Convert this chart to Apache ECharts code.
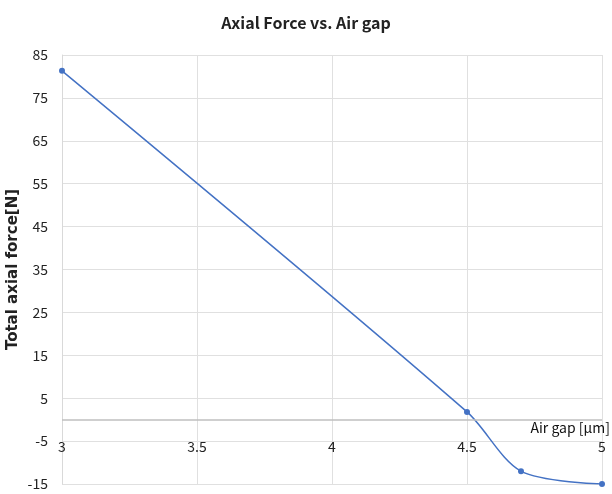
<!doctype html>
<html>
<head>
<meta charset="utf-8">
<title>Axial Force vs. Air gap</title>
<script src="https://cdn.jsdelivr.net/npm/echarts@6/dist/echarts.min.js"></script>
<style>
  html, body { margin: 0; padding: 0; background: #fff; }
  #chart { width: 612px; height: 494px; }
</style>
</head>
<body>
<div id="chart"></div>
<script>
// data
var airGap = [3, 4.5, 4.7, 5];
var axialForce = [81.3, 1.8, -12.0, -15.0];

var chart = echarts.init(document.getElementById('chart'));
var option = {
  title: {
    text: 'Axial Force vs. Air gap',
    left: 'center',
    top: 10,
    textStyle: { fontFamily: 'Noto Sans CJK KR', fontSize: 16, fontWeight: 'bold', color: '#222' }
  },
  grid: { left: 62, right: 10, top: 55, bottom: 10, outerBoundsMode: 'none' },
  xAxis: {
    type: 'value',
    min: 3,
    max: 5,
    interval: 0.5,
    axisLine: { show: false, onZero: false },
    axisTick: { show: false },
    // labels sit just under the zero line, not at the bottom of the grid
    axisLabel: { margin: -44, fontFamily: 'Noto Sans CJK KR', fontSize: 14, color: '#222', verticalAlign: 'top', showMinLabel: true, showMaxLabel: true },
    splitLine: { show: true, lineStyle: { color: '#e0e0e0' } }
  },
  yAxis: {
    type: 'value',
    min: -15,
    max: 85,
    interval: 10,
    name: 'Total axial force[N]',
    nameLocation: 'middle',
    nameGap: 41,
    nameMoveOverlap: false,
    nameRotate: 90,
    nameTextStyle: { fontFamily: 'DejaVu Sans', fontSize: 15, lineHeight: 15, fontWeight: 'bold', color: '#222' },
    axisLine: { show: true, onZero: false, lineStyle: { color: '#d9d9d9' } },
    axisTick: { show: false },
    axisLabel: { margin: 14, fontFamily: 'Noto Sans CJK KR', fontSize: 14, color: '#222' },
    splitLine: { show: true, lineStyle: { color: '#e0e0e0' } }
  },
  series: [{
    type: 'line',
    data: airGap.map(function (x, i) { return [x, axialForce[i]]; }),
    smooth: 0.3,
    symbol: 'circle',
    symbolSize: 6,
    lineStyle: { color: '#4472c4', width: 1.5 },
    itemStyle: { color: '#4472c4' },
    animation: false,
    markLine: {
      silent: true,
      symbol: 'none',
      lineStyle: { color: '#bfbfbf', width: 1.5, type: 'solid' },
      label: {
        position: 'insideEndBottom',
        formatter: 'Air gap [μm]',
        distance: [-8, 1],
        fontFamily: 'Noto Sans CJK KR',
        fontSize: 14,
        color: '#111'
      },
      data: [{ yAxis: 0 }]
    }
  }]
};
chart.setOption(option);
</script>
</body>
</html>
